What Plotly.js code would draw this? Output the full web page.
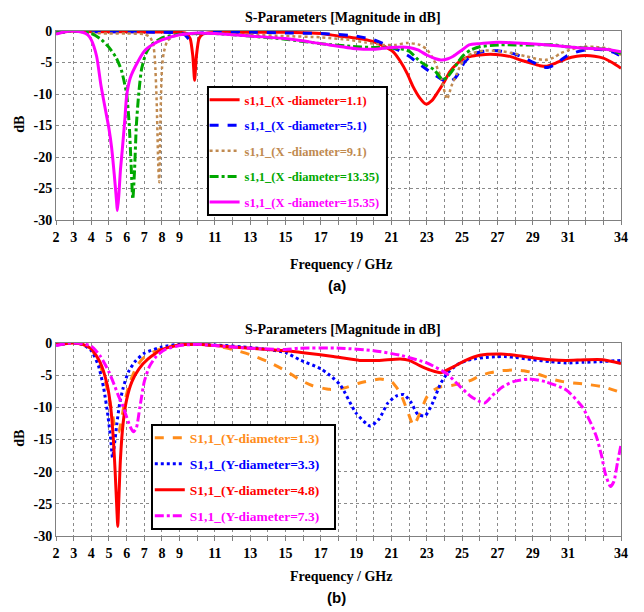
<!DOCTYPE html>
<html><head><meta charset="utf-8">
<script src="https://cdn.plot.ly/plotly-3.0.1.min.js"></script>
<style>body{margin:0;background:#fff}#chart{width:644px;height:612px}</style>
</head><body><div id="chart"></div>
<script>
// ---- tick labels ----
const xTickVals = [2,3,4,5,6,7,8,9,10,11,12,13,14,15,16,17,18,19,20,21,22,23,24,25,26,27,28,29,30,31,32,33,34];
const xTickText = ['2','3','4','5','6','7','8','9','','11','','13','','15','','17','','19','','21','','23','','25','','27','','29','','31','','','34'];
const yTickVals = [-30,-25,-20,-15,-10,-5,0];
const yTickText = ['-30','-25','-20','-15','-10','-5','0'];

// ---- (a) X-diameter series ----
const nameA = ['s1,1_(X -diameter=1.1)','s1,1_(X -diameter=5.1)','s1,1_(X -diameter=9.1)','s1,1_(X -diameter=13.35)','s1,1_(X -diameter=15.35)'];
const fA1 = [2,2.5,3,4,5,6,7,8,9,9.4,9.6,9.75,9.85,9.95,10.1,10.3,10.6,11,13,15,17,18,19,19.6,20.2,20.7,21.1,21.5,21.9,22.2,22.6,22.95,23.3,23.6,24,24.3,24.7,25.1,25.5,26,26.6,27.2,27.8,28.3,28.9,29.4,29.8,30.3,30.9,31.5,32,32.5,33,33.5,34];
const dA1 = [-0.3,-0.1,0,-0.1,-0.1,-0.1,-0.15,-0.15,-0.2,-0.4,-1.2,-4,-7.8,-4,-1.2,-0.5,-0.3,-0.25,-0.2,-0.2,-0.4,-0.8,-1.1,-1.4,-1.9,-2.6,-3.3,-4.8,-6.8,-8.7,-10.6,-11.6,-11.0,-9.8,-8.0,-6.5,-5.2,-4.4,-4.0,-3.8,-3.7,-3.8,-4.1,-4.6,-5.1,-5.5,-5.6,-5.1,-4.4,-4.0,-3.9,-4.0,-4.3,-5.0,-5.9];
const fA2 = [2,2.5,3,4,6,8,9,9.3,9.5,9.6,9.7,9.9,10.2,11,13,15,17,19,20,20.7,21.5,22,22.5,23,23.4,23.8,24.1,24.4,24.6,24.9,25.1,25.4,25.8,26.5,27.2,27.8,28.3,28.9,29.4,29.8,30.2,30.6,30.9,31.5,32,32.5,33.1,33.6,34];
const dA2 = [-0.3,-0.1,0,-0.1,-0.1,-0.2,-0.3,-0.6,-1.2,-1.4,-1.1,-0.5,-0.3,-0.2,-0.2,-0.3,-0.4,-0.8,-1.4,-2.2,-3.2,-4.0,-5.1,-6.1,-6.9,-7.6,-8.0,-7.9,-7.5,-6.2,-5.1,-4.2,-3.5,-3.1,-3.2,-3.5,-4.0,-4.8,-5.5,-5.8,-5.4,-4.6,-4.0,-3.3,-3.0,-2.9,-3.0,-3.4,-4.0];
const fA3 = [2,2.5,3,3.5,4,5,6,7,7.3,7.5,7.6,7.7,7.8,7.85,7.9,8.0,8.1,8.3,8.6,9,10,11,13,15,17,18.6,19.5,20.5,21.2,21.9,22.6,23,23.4,23.8,24.15,24.4,24.7,24.9,25.2,25.6,26.3,27.2,28,28.6,29.2,29.7,30.2,30.6,31.2,31.8,32.5,33.1,33.6,34];
const dA3 = [-0.3,-0.1,0,-0.1,-0.3,-0.4,-0.4,-0.5,-0.9,-2.0,-4.5,-11,-22,-24,-16,-6,-3.5,-1.6,-0.9,-0.6,-0.4,-0.4,-0.6,-0.8,-1.0,-1.4,-1.8,-2.2,-2.2,-1.9,-2.2,-2.9,-4.6,-7.4,-10.8,-8.7,-6.8,-5.5,-4.3,-3.5,-3.1,-3.2,-3.6,-4.0,-4.4,-4.6,-4.2,-3.5,-2.9,-2.5,-2.5,-2.7,-3.1,-3.8];
const fA4 = [2,2.5,3,3.5,4,4.5,5,5.4,5.7,6,6.15,6.25,6.35,6.45,6.55,6.7,6.85,7.1,7.4,8,9,10,11,13,15,17,19,20,21,21.5,22,22.6,23,23.4,23.9,24.2,24.5,24.8,25.1,25.5,26,26.6,27.2,28,29,30.2,30.9,32,33.1,34];
const dA4 = [-0.3,-0.1,0,-0.1,-0.4,-1.2,-2.6,-4.2,-6.2,-10,-15,-21,-26.7,-22,-15,-9.5,-6.0,-3.5,-2.2,-1.1,-0.5,-0.4,-0.4,-0.8,-1.3,-2.0,-2.5,-2.6,-2.7,-2.8,-3.2,-4.8,-5.5,-6.1,-7.7,-7.2,-6.1,-4.8,-3.8,-3.0,-2.5,-2.3,-2.2,-2.2,-2.2,-2.2,-2.5,-2.7,-2.9,-3.5];
const fA5 = [2,2.5,3,3.5,3.8,4,4.3,4.55,4.8,5,5.15,5.3,5.4,5.48,5.56,5.65,5.75,5.9,6,6.2,6.5,7,7.5,8,9,10,11,13,15,17,19,20,21,22,22.5,23,23.5,23.8,24.2,24.5,25,25.4,26,26.4,27,28.1,29.9,31,31.8,33.1,34];
const dA5 = [-0.5,-0.1,0,-0.2,-0.6,-1.4,-4,-8.7,-12.5,-15.5,-18.5,-22.8,-26,-28.5,-26,-22,-19,-14,-10.3,-7.5,-5.6,-3.2,-2.1,-1.4,-0.6,-0.3,-0.4,-0.8,-1.2,-2.0,-2.8,-2.9,-2.6,-2.6,-3.0,-3.8,-4.4,-4.6,-4.4,-4.0,-3.0,-2.2,-2.0,-1.9,-1.8,-1.9,-2.2,-2.5,-2.7,-2.9,-3.3];

// ---- (b) Y-diameter series ----
const nameB = ['S1,1_(Y-diameter=1.3)','S1,1_(Y-diameter=3.3)','S1,1_(Y-diameter=4.8)','S1,1_(Y-diameter=7.3)'];
const fB1 = [2,2.5,3,3.5,4,4.4,4.8,5.0,5.2,5.4,5.55,5.7,5.9,6.2,6.6,7,7.5,8,9,10,11,12,13,14,15,15.8,16.5,17.5,18.3,19.2,20.35,21,21.5,21.9,22.25,22.6,23,23.4,23.8,24.4,24.9,25.5,26,26.6,27.2,27.9,28.5,29,29.6,30.1,30.7,31.3,32,33,34];
const dB1 = [-0.3,-0.1,0,-0.2,-1.0,-2.8,-6,-8.5,-11,-13.8,-13.8,-12,-9,-6,-3.5,-2.2,-1.4,-0.8,-0.3,-0.2,-0.4,-1.0,-1.8,-2.9,-4.3,-5.7,-6.6,-7.2,-7.0,-6.2,-5.6,-6.0,-7.8,-10.5,-12.8,-11.0,-8.4,-7.3,-6.8,-6.6,-6.3,-5.8,-5.1,-4.6,-4.3,-4.2,-4.3,-4.6,-5.1,-5.6,-6.0,-6.2,-6.4,-6.8,-7.7];
const fB2 = [2,2.5,3,3.5,4,4.4,4.7,4.95,5.1,5.2,5.3,5.45,5.6,5.8,6.1,6.5,7,8,9,11,13,14,15,15.8,17,17.5,18.1,19,19.8,20.3,20.8,21.3,21.7,22.1,22.5,22.9,23.3,23.8,24.2,24.7,25.2,25.8,26.5,27.4,28.2,29,30,30.9,31.8,32.8,34];
const dB2 = [-0.3,-0.1,0,-0.2,-1.2,-3.5,-7,-11.5,-15,-17.8,-16,-12.5,-9.5,-7,-4.5,-2.8,-1.6,-0.6,-0.2,-0.3,-0.7,-1.0,-1.5,-2.6,-4.0,-5.0,-6.5,-10.9,-12.9,-11.8,-9.3,-8.2,-8.0,-9.2,-11.1,-11.3,-9.5,-6.2,-4.6,-3.4,-2.8,-2.4,-2.2,-2.1,-2.3,-2.6,-2.9,-3.1,-3.0,-2.9,-2.7];
const fB3 = [2,2.5,3,3.5,4,4.5,4.9,5.1,5.25,5.35,5.45,5.5,5.55,5.65,5.8,6,6.3,6.7,7.2,8,9,10,11,13,15,16,17.7,19.2,20.3,21.5,22,22.6,23.2,23.8,24.5,25.2,26,27.2,28,29,30,30.9,32,33,34];
const dB3 = [-0.2,-0.1,0,-0.2,-0.9,-3,-6.5,-10,-15,-20,-26,-28.5,-25,-18,-12.5,-8.8,-6,-4,-2.5,-1.0,-0.3,-0.2,-0.4,-0.8,-1.2,-1.5,-2.1,-2.7,-2.7,-2.5,-2.7,-3.5,-4.2,-4.6,-3.7,-2.7,-1.9,-1.7,-1.9,-2.3,-2.6,-2.7,-2.6,-2.6,-3.2];
const fB4 = [2,2.5,3,3.5,4,4.5,5,5.3,5.55,5.75,6,6.2,6.38,6.55,6.75,7,7.3,7.7,8.2,9,10,11,13,15,15.8,18.1,20,21.5,23,24.1,24.9,25.5,26,26.3,26.7,27.3,27.9,28.8,29.7,30.9,31.8,32.3,32.6,32.9,33.1,33.4,33.6,33.8,34];
const dB4 = [-0.4,-0.1,0,-0.1,-0.5,-2.0,-4.5,-6.5,-8.3,-9.5,-11.5,-13,-13.8,-13.2,-10,-6,-3.6,-2,-1,-0.4,-0.2,-0.4,-0.8,-1.0,-0.8,-0.8,-1.2,-1.9,-3.1,-4.7,-6.8,-8.3,-9.1,-9.3,-8.2,-6.8,-6.0,-5.6,-6.0,-7.3,-9.9,-12.5,-14.5,-17.5,-20.2,-22.3,-21.5,-18.6,-15.8];

const colA = ['#ff0000','#0000ff','#c08a50','#00a800','#ff00ff'];
const dashA = ['solid','dash','dot','dashdot','solid'];
const colB = ['#ff8c1a','#0000ff','#ff0000','#ff00ff'];
const dashB = ['dash','dot','solid','dashdot'];

const fAs = [fA1,fA2,fA3,fA4,fA5], dAs = [dA1,dA2,dA3,dA4,dA5];
const fBs = [fB1,fB2,fB3,fB4], dBs = [dB1,dB2,dB3,dB4];

// legend item vertical centres (paper fraction) – layout only
const legYA = [0.8366,0.7948,0.7529,0.7111,0.6693];
const legYB = [0.2843,0.2418,0.1993,0.1569];
const legXA = 0.263, legXB = 0.166;

const serifFam = 'Liberation Serif, Times New Roman, serif';
const traces = [];
const layoutLegends = {};
fAs.forEach((f,i)=>{
  const lid = 'legend' + (i===0 ? '' : (i+1));
  traces.push({x:f,y:dAs[i],type:'scatter',mode:'lines',xaxis:'x',yaxis:'y',name:nameA[i],legend:lid,
    line:{color:colA[i],dash:dashA[i],width:i===2?2.5:3,shape:'spline',smoothing:0.6}});
  layoutLegends[lid] = {x:legXA,y:legYA[i],xanchor:'left',yanchor:'middle',bgcolor:'rgba(0,0,0,0)',borderwidth:0,
    font:{family:serifFam,size:12.5,color:colA[i],weight:'bold'}};
});
fBs.forEach((f,i)=>{
  const lid = 'legend' + (i+6);
  traces.push({x:f,y:dBs[i],type:'scatter',mode:'lines',xaxis:'x2',yaxis:'y2',name:nameB[i],legend:lid,
    line:{color:colB[i],dash:dashB[i],width:3,shape:'spline',smoothing:0.6}});
  layoutLegends[lid] = {x:legXB,y:legYB[i],xanchor:'left',yanchor:'middle',bgcolor:'rgba(0,0,0,0)',borderwidth:0,
    font:{family:serifFam,size:13.5,color:colB[i],weight:'bold'}};
});

const tf = {family:serifFam,size:14,color:'#000',weight:'bold'};
function xax(anchor){return {anchor:anchor,range:[2,34],tickvals:xTickVals,ticktext:xTickText,tickfont:tf,
  showgrid:true,gridcolor:'#8a8a8a',griddash:'dot',gridwidth:1,zeroline:false,showline:true,linecolor:'#808080',linewidth:1,mirror:true,
  ticks:'outside',ticklen:4,tickcolor:'#808080'};}
function yax(anchor,dom){return {anchor:anchor,domain:dom,range:[-30,0],tickvals:yTickVals,ticktext:yTickText,tickfont:tf,
  showgrid:true,gridcolor:'#8a8a8a',griddash:'dot',gridwidth:1,zeroline:false,showline:true,linecolor:'#808080',linewidth:1,mirror:true,
  ticks:''};}
const serif = {family:serifFam,size:14,color:'#000',weight:'bold'};
const arial = {family:'Liberation Sans, Arial, sans-serif',size:15,color:'#000',weight:'bold'};
function ann(text,x,y,font,rot){return {text:text,x:x,y:y,xref:'paper',yref:'paper',showarrow:false,font:font,textangle:rot||0,xanchor:'center',yanchor:'middle'};}
function box(x0,x1,y0,y1){return {type:'rect',xref:'paper',yref:'paper',x0:x0,x1:x1,y0:y0,y1:y1,layer:'above',fillcolor:'#ffffff',line:{color:'#000',width:2}};}

const layout = Object.assign({
  width:644,height:612,margin:{l:56,r:23,t:0,b:0},paper_bgcolor:'#fff',plot_bgcolor:'#fff',
  showlegend:true,
  xaxis:xax('y'),yaxis:yax('x',[0.6405,0.9493]),
  xaxis2:xax('y2'),yaxis2:yax('x2',[0.124,0.4395]),
  shapes:[box(0.2690,0.5858,0.6487,0.8578), box(0.1699,0.4938,0.1356,0.3056)],
  annotations:[
    ann('S-Parameters [Magnitude in dB]',0.508,0.9722,serif),
    ann('Frequency / GHz',0.504,0.567,serif),
    ann('(a)',0.497,0.534,arial),
    ann('dB',-0.0637,0.796,serif,-90),
    ann('S-Parameters [Magnitude in dB]',0.508,0.4624,serif),
    ann('Frequency / GHz',0.504,0.0588,serif),
    ann('(b)',0.497,0.0229,arial),
    ann('dB',-0.0637,0.283,serif,-90)
  ]
}, layoutLegends);
Plotly.newPlot('chart',traces,layout,{displayModeBar:false,staticPlot:true});
</script></body></html>
